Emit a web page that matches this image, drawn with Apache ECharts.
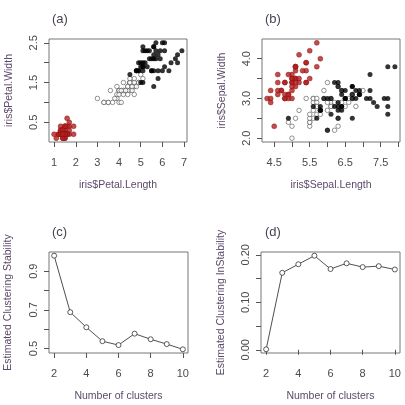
<!DOCTYPE html>
<html>
<head>
<meta charset="utf-8">
<script src="https://cdn.jsdelivr.net/npm/echarts@6/dist/echarts.min.js"></script>
<style>
  html, body { margin: 0; padding: 0; background: #fff; }
  #main { width: 405px; height: 405px; }
</style>
</head>
<body>
<div id="main"></div>
<script>
// iris: [Sepal.Length, Sepal.Width, Petal.Length, Petal.Width]
const setosa = [
  [5.1,3.5,1.4,0.2],[4.9,3.0,1.4,0.2],[4.7,3.2,1.3,0.2],[4.6,3.1,1.5,0.2],[5.0,3.6,1.4,0.2],
  [5.4,3.9,1.7,0.4],[4.6,3.4,1.4,0.3],[5.0,3.4,1.5,0.2],[4.4,2.9,1.4,0.2],[4.9,3.1,1.5,0.1],
  [5.4,3.7,1.5,0.2],[4.8,3.4,1.6,0.2],[4.8,3.0,1.4,0.1],[4.3,3.0,1.1,0.1],[5.8,4.0,1.2,0.2],
  [5.7,4.4,1.5,0.4],[5.4,3.9,1.3,0.4],[5.1,3.5,1.4,0.3],[5.7,3.8,1.7,0.3],[5.1,3.8,1.5,0.3],
  [5.4,3.4,1.7,0.2],[5.1,3.7,1.5,0.4],[4.6,3.6,1.0,0.2],[5.1,3.3,1.7,0.5],[4.8,3.4,1.9,0.2],
  [5.0,3.0,1.6,0.2],[5.0,3.4,1.6,0.4],[5.2,3.5,1.5,0.2],[5.2,3.4,1.4,0.2],[4.7,3.2,1.6,0.2],
  [4.8,3.1,1.6,0.2],[5.4,3.4,1.5,0.4],[5.2,4.1,1.5,0.1],[5.5,4.2,1.4,0.2],[4.9,3.1,1.5,0.2],
  [5.0,3.2,1.2,0.2],[5.5,3.5,1.3,0.2],[4.9,3.6,1.4,0.1],[4.4,3.0,1.3,0.2],[5.1,3.4,1.5,0.2],
  [5.0,3.5,1.3,0.3],[4.5,2.3,1.3,0.3],[4.4,3.2,1.3,0.2],[5.0,3.5,1.6,0.6],[5.1,3.8,1.9,0.4],
  [4.8,3.0,1.4,0.3],[5.1,3.8,1.6,0.2],[4.6,3.2,1.4,0.2],[5.3,3.7,1.5,0.2],[5.0,3.3,1.4,0.2]
];
const versicolor = [
  [7.0,3.2,4.7,1.4],[6.4,3.2,4.5,1.5],[6.9,3.1,4.9,1.5],[5.5,2.3,4.0,1.3],[6.5,2.8,4.6,1.5],
  [5.7,2.8,4.5,1.3],[6.3,3.3,4.7,1.6],[4.9,2.4,3.3,1.0],[6.6,2.9,4.6,1.3],[5.2,2.7,3.9,1.4],
  [5.0,2.0,3.5,1.0],[5.9,3.0,4.2,1.5],[6.0,2.2,4.0,1.0],[6.1,2.9,4.7,1.4],[5.6,2.9,3.6,1.3],
  [6.7,3.1,4.4,1.4],[5.6,3.0,4.5,1.5],[5.8,2.7,4.1,1.0],[6.2,2.2,4.5,1.5],[5.6,2.5,3.9,1.1],
  [5.9,3.2,4.8,1.8],[6.1,2.8,4.0,1.3],[6.3,2.5,4.9,1.5],[6.1,2.8,4.7,1.2],[6.4,2.9,4.3,1.3],
  [6.6,3.0,4.4,1.4],[6.8,2.8,4.8,1.4],[6.7,3.0,5.0,1.7],[6.0,2.9,4.5,1.5],[5.7,2.6,3.5,1.0],
  [5.5,2.4,3.8,1.1],[5.5,2.4,3.7,1.0],[5.8,2.7,3.9,1.2],[6.0,2.7,5.1,1.6],[5.4,3.0,4.5,1.5],
  [6.0,3.4,4.5,1.6],[6.7,3.1,4.7,1.5],[6.3,2.3,4.4,1.3],[5.6,3.0,4.1,1.3],[5.5,2.5,4.0,1.3],
  [5.5,2.6,4.4,1.2],[6.1,3.0,4.6,1.4],[5.8,2.6,4.0,1.2],[5.0,2.3,3.3,1.0],[5.6,2.7,4.2,1.3],
  [5.7,3.0,4.2,1.2],[5.7,2.9,4.2,1.3],[6.2,2.9,4.3,1.3],[5.1,2.5,3.0,1.1],[5.7,2.8,4.1,1.3]
];
const virginica = [
  [6.3,3.3,6.0,2.5],[5.8,2.7,5.1,1.9],[7.1,3.0,5.9,2.1],[6.3,2.9,5.6,1.8],[6.5,3.0,5.8,2.2],
  [7.6,3.0,6.6,2.1],[4.9,2.5,4.5,1.7],[7.3,2.9,6.3,1.8],[6.7,2.5,5.8,1.8],[7.2,3.6,6.1,2.5],
  [6.5,3.2,5.1,2.0],[6.4,2.7,5.3,1.9],[6.8,3.0,5.5,2.1],[5.7,2.5,5.0,2.0],[5.8,2.8,5.1,2.4],
  [6.4,3.2,5.3,2.3],[6.5,3.0,5.5,1.8],[7.7,3.8,6.7,2.2],[7.7,2.6,6.9,2.3],[6.0,2.2,5.0,1.5],
  [6.9,3.2,5.7,2.3],[5.6,2.8,4.9,2.0],[7.7,2.8,6.7,2.0],[6.3,2.7,4.9,1.8],[6.7,3.3,5.7,2.1],
  [7.2,3.2,6.0,1.8],[6.2,2.8,4.8,1.8],[6.1,3.0,4.9,1.8],[6.4,2.8,5.6,2.1],[7.2,3.0,5.8,1.6],
  [7.4,2.8,6.1,1.9],[7.9,3.8,6.4,2.0],[6.4,2.8,5.6,2.2],[6.3,2.8,5.1,1.5],[6.1,2.6,5.6,1.4],
  [7.7,3.0,6.1,2.3],[6.3,3.4,5.6,2.4],[6.4,3.1,5.5,1.8],[6.0,3.0,4.8,1.8],[6.9,3.1,5.4,2.1],
  [6.7,3.1,5.6,2.4],[6.9,3.1,5.1,2.3],[5.8,2.7,5.1,1.9],[6.8,3.2,5.9,2.3],[6.7,3.3,5.7,2.5],
  [6.7,3.0,5.2,2.3],[6.3,2.5,5.0,1.9],[6.5,3.0,5.2,2.0],[6.2,3.4,5.4,2.3],[5.9,3.0,5.1,1.8]
];

const clusters = [2, 3, 4, 5, 6, 7, 8, 9, 10];
const stability = [0.98, 0.688, 0.61, 0.538, 0.518, 0.577, 0.548, 0.523, 0.496];
const instability = [0.001, 0.162, 0.180, 0.198, 0.170, 0.182, 0.174, 0.176, 0.169];

const ticksPetalLength = [1, 2, 3, 4, 5, 6, 7];
const ticksPetalWidth = [0.5, 1.0, 1.5, 2.0, 2.5];
const labelsPetalWidth = [0.5, 1.5, 2.5];
const ticksSepalLength = [4.5, 5.0, 5.5, 6.0, 6.5, 7.0, 7.5, 8.0];
const labelsSepalLength = [4.5, 5.5, 6.5, 7.5];
const ticksSepalWidth = [2.0, 2.5, 3.0, 3.5, 4.0];
const labelsSepalWidth = [2.0, 3.0, 4.0];
const ticksClusters = [2, 4, 6, 8, 10];
const ticksStab = [0.5, 0.6, 0.7, 0.8, 0.9];
const labelsStab = [0.5, 0.7, 0.9];
const ticksInstab = [0.0, 0.05, 0.10, 0.15, 0.20];
const labelsInstab = [0.0, 0.10, 0.20];

const FONT = "Liberation Sans";
const txt = "#4a4a4a";

function xAxis(gi, min, max, ticks, labels, name, digits) {
  return {
    type: "value", gridIndex: gi, min: min, max: max,
    name: name, nameLocation: "middle", nameGap: 38,
    nameTextStyle: { color: "#5a4a6a", fontFamily: FONT, fontSize: 10.5 },
    splitLine: { show: false },
    axisLine: { show: false },
    axisTick: { show: true, inside: false, length: 5, customValues: ticks,
      lineStyle: { color: "#555" } },
    axisLabel: { customValues: labels, margin: 15, color: txt, fontFamily: FONT, fontSize: 11,
      formatter: (v) => v.toFixed(digits) },
  };
}
function yAxis(gi, min, max, ticks, labels, name, digits, gap) {
  return {
    type: "value", gridIndex: gi, min: min, max: max,
    name: name, nameLocation: "middle", nameGap: gap,
    nameTextStyle: { color: "#5a4a6a", fontFamily: FONT, fontSize: 10.5 },
    splitLine: { show: false },
    axisLine: { show: false },
    axisTick: { show: true, inside: false, length: 5, customValues: ticks,
      lineStyle: { color: "#555" } },
    axisLabel: { customValues: labels, margin: 10, rotate: 90, color: txt, fontFamily: FONT, fontSize: 11,
      formatter: (v) => v.toFixed(digits) },
  };
}
function scatter(xi, yi, rows, cx, cy, style) {
  return Object.assign({
    type: "scatter", xAxisIndex: xi, yAxisIndex: yi,
    data: rows.map((r) => [r[cx], r[cy]]),
    symbolSize: 5,
  }, style);
}
const red = { symbol: "circle", itemStyle: { color: "#b21f1f", borderColor: "#8a1010", borderWidth: 0.5 } };
const open = { symbol: "circle", symbolSize: 4.5, itemStyle: { color: "#fff", borderColor: "#555", borderWidth: 0.8 } };
const black = { symbol: "circle", itemStyle: { color: "#000" } };

const chart = echarts.init(document.getElementById("main"), null, { renderer: "canvas" });
const gridBase = { show: true, borderColor: "#777", borderWidth: 1, backgroundColor: "transparent", containLabel: false };

chart.setOption({
  animation: false,
  backgroundColor: "#fff",
  title: [
    { text: "(a)", left: 47, top: 8 },
    { text: "(b)", left: 260, top: 8 },
    { text: "(c)", left: 47, top: 221 },
    { text: "(d)", left: 260, top: 221 },
  ].map((t) => Object.assign(t, { textStyle: { fontFamily: FONT, fontSize: 13, fontWeight: "normal", color: "#4a4050" } })),
  grid: [
    Object.assign({ left: 49, top: 39, width: 138, height: 103 }, gridBase),
    Object.assign({ left: 262, top: 39, width: 138, height: 103 }, gridBase),
    Object.assign({ left: 49, top: 252, width: 139, height: 101 }, gridBase),
    Object.assign({ left: 261, top: 252, width: 139, height: 101 }, gridBase),
  ],
  xAxis: [
    xAxis(0, 0.764, 7.136, ticksPetalLength, ticksPetalLength, "iris$Petal.Length", 0),
    xAxis(1, 4.156, 8.044, ticksSepalLength, labelsSepalLength, "iris$Sepal.Length", 1),
    xAxis(2, 1.68, 10.32, ticksClusters, ticksClusters, "Number of clusters", 0),
    xAxis(3, 1.68, 10.32, ticksClusters, ticksClusters, "Number of clusters", 0),
  ],
  yAxis: [
    yAxis(0, 0.004, 2.596, ticksPetalWidth, labelsPetalWidth, "iris$Petal.Width", 1, 34),
    yAxis(1, 1.904, 4.496, ticksSepalWidth, labelsSepalWidth, "iris$Sepal.Width", 1, 34),
    yAxis(2, 0.477, 0.999, ticksStab, labelsStab, "Estimated Clustering Stability", 1, 35),
    yAxis(3, -0.0068, 0.2058, ticksInstab, labelsInstab, "Estimated Clustering InStability", 2, 34),
  ],
  series: [
    scatter(0, 0, versicolor, 2, 3, open),
    scatter(0, 0, virginica, 2, 3, black),
    scatter(0, 0, setosa, 2, 3, red),
    scatter(1, 1, versicolor, 0, 1, open),
    scatter(1, 1, virginica, 0, 1, black),
    scatter(1, 1, setosa, 0, 1, red),
    {
      type: "line", xAxisIndex: 2, yAxisIndex: 2,
      data: clusters.map((k, i) => [k, stability[i]]),
      symbol: "circle", symbolSize: 5,
      lineStyle: { color: "#222", width: 0.8 },
      itemStyle: { color: "#fff", borderColor: "#333", borderWidth: 0.8 },
    },
    {
      type: "line", xAxisIndex: 3, yAxisIndex: 3,
      data: clusters.map((k, i) => [k, instability[i]]),
      symbol: "circle", symbolSize: 5,
      lineStyle: { color: "#222", width: 0.8 },
      itemStyle: { color: "#fff", borderColor: "#333", borderWidth: 0.8 },
    },
  ],
});
</script>
</body>
</html>
